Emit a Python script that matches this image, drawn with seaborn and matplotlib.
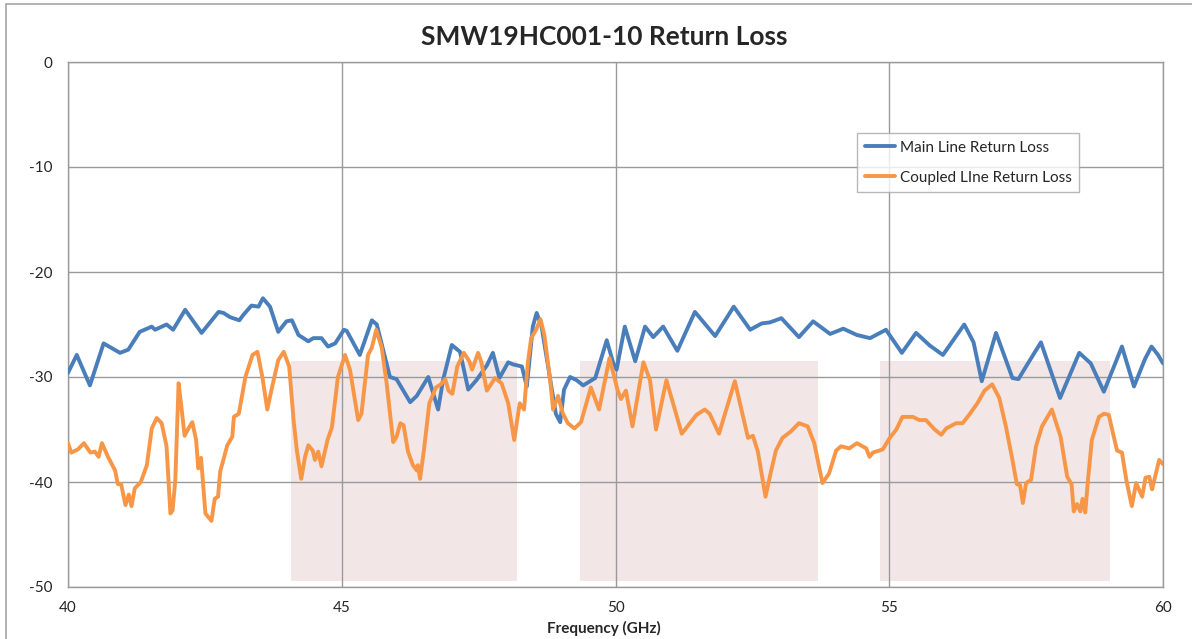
import matplotlib
matplotlib.use("Agg")
import matplotlib.pyplot as plt
import seaborn as sns
import pandas as pd
from matplotlib.patches import Rectangle

# ---------------- data ----------------
main_freq = [40.0, 40.16, 40.40, 40.65, 40.95, 41.10, 41.31, 41.53, 41.59, 41.80, 41.92,
             42.14, 42.44, 42.75, 42.84, 42.96, 43.13, 43.20, 43.35, 43.48, 43.56, 43.69,
             43.84, 43.99, 44.09, 44.21, 44.39, 44.48, 44.63, 44.75, 44.88, 45.04, 45.09,
             45.33, 45.55, 45.64, 45.88, 46.00, 46.25, 46.37, 46.58, 46.76, 46.85, 47.01,
             47.16, 47.31, 47.46, 47.65, 47.76, 47.88, 48.04, 48.13, 48.29, 48.38, 48.49,
             48.56, 48.65, 48.80, 48.91, 48.99, 49.06, 49.17, 49.29, 49.41, 49.63, 49.84,
             49.96, 50.02, 50.17, 50.36, 50.54, 50.69, 50.87, 51.13, 51.45, 51.82, 52.16,
             52.46, 52.67, 52.82, 53.03, 53.35, 53.61, 53.92, 54.16, 54.41, 54.65, 54.94,
             55.23, 55.49, 55.74, 55.98, 56.37, 56.54, 56.69, 56.95, 57.25, 57.36, 57.51,
             57.77, 58.12, 58.47, 58.68, 58.92, 59.25, 59.47, 59.67, 59.79, 59.91, 60.0]
main_rl = [-29.6, -27.9, -30.8, -26.8, -27.7, -27.4, -25.7, -25.2, -25.5, -25.0, -25.5,
           -23.6, -25.8, -23.8, -23.9, -24.3, -24.6, -24.1, -23.2, -23.3, -22.5, -23.3,
           -25.7, -24.7, -24.6, -26.0, -26.6, -26.3, -26.3, -27.1, -26.8, -25.5, -25.6,
           -27.9, -24.6, -25.0, -30.0, -30.2, -32.4, -31.8, -30.0, -33.1, -30.3, -26.95,
           -27.6, -31.2, -30.3, -28.9, -27.7, -30.1, -28.6, -28.8, -29.0, -30.9, -25.2,
           -23.9, -25.2, -30.0, -33.5, -34.3, -31.2, -30.0, -30.3, -30.8, -30.1, -26.5,
           -28.7, -29.3, -25.2, -28.5, -25.2, -26.2, -25.2, -27.5, -23.8, -26.1, -23.3,
           -25.5, -24.9, -24.8, -24.4, -26.2, -24.7, -25.9, -25.4, -26.0, -26.3, -25.5,
           -27.7, -25.8, -27.0, -27.9, -25.0, -26.7, -30.4, -25.8, -30.1, -30.2, -28.9,
           -26.7, -32.0, -27.7, -28.7, -31.4, -27.1, -30.9, -28.3, -27.1, -27.9, -28.7]

coup_freq = [40.0, 40.06, 40.18, 40.29, 40.41, 40.49, 40.56, 40.62, 40.73, 40.79, 40.86,
             40.91, 40.97, 41.05, 41.11, 41.16, 41.22, 41.33, 41.44, 41.53, 41.62, 41.71,
             41.80, 41.87, 41.91, 41.96, 42.02, 42.07, 42.13, 42.20, 42.27, 42.34, 42.38,
             42.43, 42.51, 42.62, 42.68, 42.74, 42.78, 42.91, 43.00, 43.03, 43.12, 43.24,
             43.37, 43.46, 43.55, 43.64, 43.73, 43.84, 43.94, 44.04, 44.12, 44.18, 44.26,
             44.33, 44.39, 44.47, 44.51, 44.57, 44.63, 44.74, 44.82, 44.93, 45.06, 45.15,
             45.30, 45.36, 45.48, 45.55, 45.63, 45.73, 45.82, 45.94, 46.00, 46.07, 46.13,
             46.21, 46.30, 46.37, 46.39, 46.43, 46.50, 46.60, 46.72, 46.81, 46.89, 46.95,
             47.02, 47.11, 47.23, 47.33, 47.38, 47.49, 47.55, 47.65, 47.80, 47.92, 48.04,
             48.15, 48.25, 48.33, 48.40, 48.46, 48.55, 48.63, 48.70, 48.80, 48.86, 48.95,
             49.04, 49.13, 49.25, 49.37, 49.55, 49.70, 49.89, 50.04, 50.10, 50.19, 50.31,
             50.51, 50.63, 50.74, 50.93, 51.21, 51.33, 51.48, 51.63, 51.72, 51.89, 52.18,
             52.42, 52.51, 52.60, 52.74, 52.84, 52.93, 53.05, 53.20, 53.35, 53.51, 53.63,
             53.78, 53.90, 54.03, 54.12, 54.27, 54.41, 54.58, 54.64, 54.70, 54.88, 55.01,
             55.13, 55.24, 55.43, 55.55, 55.67, 55.83, 55.95, 56.04, 56.22, 56.34, 56.46,
             56.61, 56.74, 56.88, 57.01, 57.13, 57.25, 57.33, 57.39, 57.44, 57.50, 57.59,
             57.68, 57.79, 57.97, 58.13, 58.25, 58.33, 58.37, 58.43, 58.49, 58.53, 58.58,
             58.63, 58.70, 58.83, 58.92, 59.01, 59.07, 59.16, 59.25, 59.33, 59.43, 59.51,
             59.62, 59.68, 59.75, 59.80, 59.87, 59.93, 60.0]
coup_rl = [-36.3, -37.2, -36.9, -36.3, -37.2, -37.1, -37.6, -36.3, -37.6, -38.2, -38.9,
           -40.2, -40.2, -42.2, -41.2, -42.3, -40.6, -40.0, -38.4, -34.9, -33.9, -34.4,
           -36.6, -43.0, -42.7, -39.8, -30.6, -32.8, -35.6, -34.9, -34.3, -36.0, -38.7,
           -37.7, -43.0, -43.7, -41.6, -41.4, -39.0, -36.5, -35.7, -33.8, -33.5, -30.0,
           -27.9, -27.6, -30.0, -33.1, -30.9, -28.4, -27.6, -29.0, -34.1, -37.0, -39.7,
           -37.6, -36.5, -37.0, -37.9, -37.1, -38.5, -36.0, -34.8, -30.0, -27.9, -29.3,
           -34.1, -33.5, -27.9, -27.2, -25.5, -27.2, -30.6, -36.2, -35.7, -34.4, -34.6,
           -37.1, -38.4, -38.9, -38.4, -39.7, -37.0, -32.5, -31.0, -30.7, -30.2, -31.3,
           -31.6, -29.0, -27.7, -28.5, -29.3, -27.7, -28.6, -31.3, -30.1, -30.6, -32.5,
           -36.0, -32.5, -33.1, -28.6, -26.3, -25.5, -24.5, -26.0, -30.0, -33.1, -31.8,
           -33.5, -34.4, -34.9, -34.3, -31.0, -33.1, -28.2, -31.3, -32.1, -31.3, -34.7,
           -28.6, -30.3, -35.0, -30.3, -35.4, -34.6, -33.6, -33.1, -33.5, -35.4, -30.4,
           -35.8, -35.6, -37.1, -41.4, -39.0, -37.0, -35.8, -35.2, -34.4, -34.7, -36.3,
           -40.1, -39.2, -37.0, -36.6, -36.8, -36.3, -36.8, -37.6, -37.2, -36.9, -35.8,
           -35.0, -33.8, -33.8, -34.1, -34.1, -35.0, -35.5, -34.9, -34.4, -34.4, -33.6,
           -32.5, -31.3, -30.7, -32.0, -34.7, -37.9, -40.2, -40.3, -42.0, -40.1, -39.8,
           -36.6, -34.7, -33.1, -35.7, -39.5, -40.2, -42.8, -42.1, -42.8, -41.6, -42.9,
           -39.8, -36.0, -33.8, -33.5, -33.6, -35.0, -37.0, -37.2, -39.8, -42.3, -40.1,
           -41.4, -39.6, -39.5, -40.7, -39.2, -37.9, -38.3]

band_start = [44.07, 49.35, 54.83]
band_end = [48.20, 53.70, 59.03]
band_top = -28.5
band_bottom = -49.4

x_ticks = [40, 45, 50, 55, 60]
y_ticks = [0, -10, -20, -30, -40, -50]

title = "SMW19HC001-10 Return Loss"
x_label = "Frequency (GHz)"
main_name = "Main Line Return Loss"
coup_name = "Coupled LIne Return Loss"

# ---------------- style ----------------
sns.set_style("white")
plt.rcParams['font.family'] = ['Lato', 'DejaVu Sans']

BLUE = "#4A7EBB"
ORANGE = "#F79646"
PINK = "#F2E6E7"
GRID = "#9A9A9A"
TXT = "#262626"

fig = plt.figure(figsize=(11.92, 6.39), dpi=100)
ax = fig.add_axes([68/1192, 1-587/639, (1163-68)/1192, (587-62)/639])

# figure (chart area) border
fig.patches.append(Rectangle((6/1192, -0.1), 1.2, 1.1-4/639, transform=fig.transFigure,
                             fill=False, edgecolor="#A6A6A6", linewidth=1.2))

for s, e in zip(band_start, band_end):
    ax.add_patch(Rectangle((s, band_bottom), e - s, band_top - band_bottom,
                           facecolor=PINK, edgecolor="none", zorder=1))

df_main = pd.DataFrame({"freq": main_freq, "rl": main_rl})
df_coup = pd.DataFrame({"freq": coup_freq, "rl": coup_rl})
sns.lineplot(data=df_main, x="freq", y="rl", ax=ax, color=BLUE, linewidth=2.8,
             label=main_name, sort=False, zorder=3, solid_joinstyle='round')
sns.lineplot(data=df_coup, x="freq", y="rl", ax=ax, color=ORANGE, linewidth=2.8,
             label=coup_name, sort=False, zorder=3, solid_joinstyle='round')

ax.set_xlim(40, 60)
ax.set_ylim(-50, 0)
ax.set_xticks(x_ticks)
ax.set_yticks(y_ticks)
ax.set_xticklabels([str(v) for v in x_ticks])
ax.set_yticklabels([str(v) for v in y_ticks])
ax.set_axisbelow('line')
ax.grid(True, color=GRID, linewidth=1.0)
for sp in ax.spines.values():
    sp.set_color(GRID)
    sp.set_linewidth(1.0)
ax.tick_params(axis='y', length=4, width=1.0, color=GRID,
               labelsize=11, labelcolor=TXT, pad=7)
ax.tick_params(axis='x', length=0, labelsize=11, labelcolor=TXT, pad=10)

ax.set_xlabel("")
ax.set_ylabel("")
fig.text(604/1192, 1-628/639, x_label, fontsize=11, fontweight='bold', color=TXT,
         ha='center', va='center')
fig.text(604/1192, 1-37/639, title, fontsize=19, fontweight='bold', color=TXT,
         ha='center', va='center')

leg = ax.legend(loc='upper left', bbox_to_anchor=((857-68)/1095, (587-133)/525),
                borderaxespad=0, frameon=True, fancybox=False, fontsize=11,
                handlelength=2.0, handletextpad=0.3, borderpad=0.5, labelspacing=1.05)
leg.get_frame().set_edgecolor("#A6A6A6")
leg.get_frame().set_linewidth(1.0)
for t in leg.get_texts():
    t.set_color(TXT)

fig.savefig("out.png", dpi=100)
